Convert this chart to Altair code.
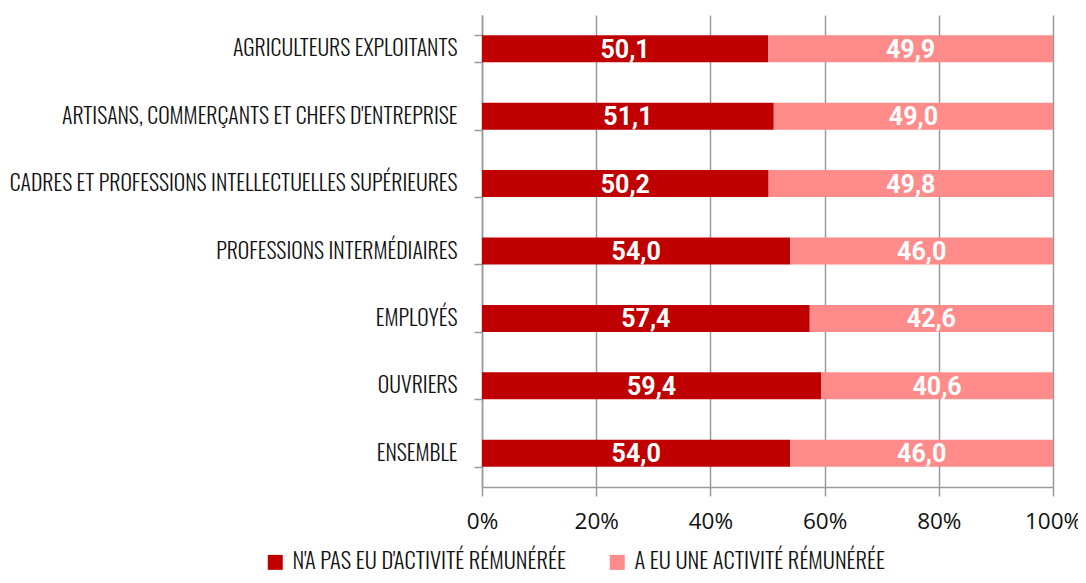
import altair as alt
import pandas as pd

categories = [
    "AGRICULTEURS EXPLOITANTS",
    "ARTISANS, COMMERÇANTS ET CHEFS D'ENTREPRISE",
    "CADRES ET PROFESSIONS INTELLECTUELLES SUPÉRIEURES",
    "PROFESSIONS INTERMÉDIAIRES",
    "EMPLOYÉS",
    "OUVRIERS",
    "ENSEMBLE",
]
series_names = ["N'A PAS EU D'ACTIVITÉ RÉMUNÉRÉE", "A EU UNE ACTIVITÉ RÉMUNÉRÉE"]
no_activity = [50.1, 51.1, 50.2, 54.0, 57.4, 59.4, 54.0]
activity = [49.9, 49.0, 49.8, 46.0, 42.6, 40.6, 46.0]
colors = ["#C00000", "#FF8B8B"]
x_ticks = [0, 20, 40, 60, 80, 100]

rows = []
for cat, a, b in zip(categories, no_activity, activity):
    end_b = min(100.0, a + b)
    rows.append(dict(cat=cat, series=series_names[0], start=0.0, end=a, mid=a / 2,
                     label=f"{a:.1f}".replace(".", ",")))
    rows.append(dict(cat=cat, series=series_names[1], start=a, end=end_b, mid=(a + end_b) / 2,
                     label=f"{b:.1f}".replace(".", ",")))
df = pd.DataFrame(rows)

cond_font = "Oswald"
axis_grey = "#9A9A9A"

y_enc = alt.Y(
    "cat:N", sort=categories, title=None,
    scale=alt.Scale(paddingInner=0.6, paddingOuter=0.3),
    axis=alt.Axis(tickBand="extent", domainColor=axis_grey, domainWidth=1.5,
                  tickColor=axis_grey, tickWidth=1.5,
                  tickSize=8, labelPadding=17, labelFont=cond_font, labelFontSize=21.8,
                  labelFontWeight=300,
                  labelColor="#111111", labelLimit=500, grid=False),
)
x_scale = alt.Scale(domain=[0, 100], nice=False)

bars = alt.Chart(df).mark_bar().encode(
    x=alt.X("start:Q", scale=x_scale, title=None,
            axis=alt.Axis(values=x_ticks, labelExpr="datum.value + '%'", grid=True,
                          labelFlush=False,
                          gridColor=axis_grey, gridWidth=1.5, domainColor=axis_grey,
                          domainWidth=1.5, tickColor=axis_grey, tickWidth=1.5,
                          tickSize=9, labelPadding=14,
                          labelFont="Open Sans", labelFontSize=22.5, labelColor="#111111")),
    x2="end:Q",
    y=y_enc,
    color=alt.Color("series:N", scale=alt.Scale(domain=series_names, range=colors),
                    title=None,
                    legend=alt.Legend(orient="none", legendX=-218, legendY=536,
                                      direction="horizontal", symbolType="square",
                                      symbolSize=225, symbolStrokeWidth=0,
                                      labelOffset=6,
                                      labelFont=cond_font, labelFontSize=22.5,
                                      labelFontWeight=300,
                                      labelColor="#111111", columnPadding=40,
                                      labelLimit=400)),
)

texts = alt.Chart(df).mark_text(color="white", font="Roboto", fontWeight="bold",
                                fontSize=25, baseline="middle", dy=1).encode(
    x=alt.X("mid:Q", scale=x_scale),
    y=alt.Y("cat:N", sort=categories),
    text="label:N",
)

chart = (bars + texts).properties(
    width=571, height=472,
    autosize=alt.AutoSizeParams(type="none"),
    padding={"left": 474, "top": 7, "right": 25, "bottom": 88},
).configure_view(stroke=None)

chart.save("out.html", embed_options={"renderer": "svg", "actions": False})
